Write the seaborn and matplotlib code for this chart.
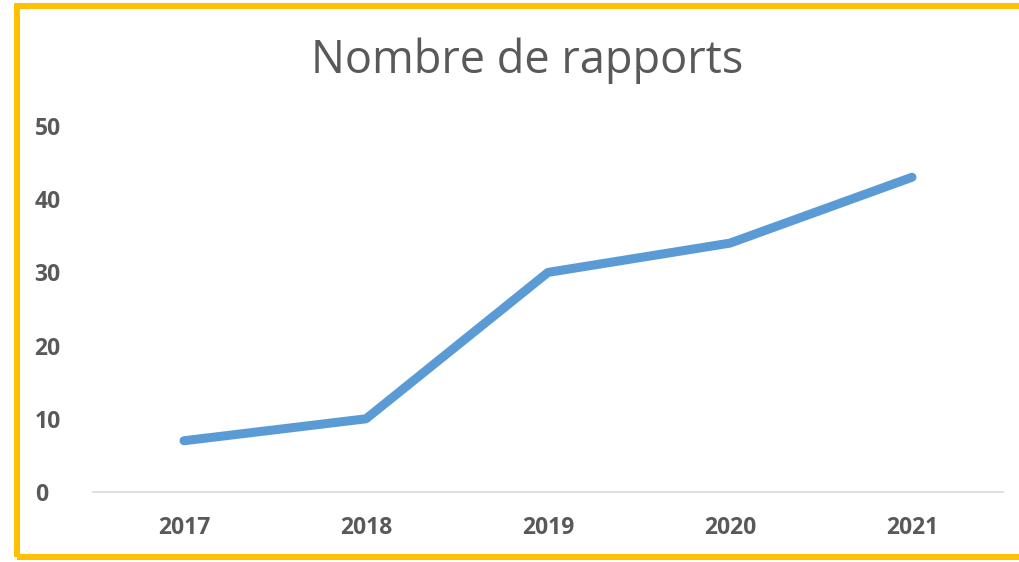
import pandas as pd
import seaborn as sns
import matplotlib.pyplot as plt
from matplotlib.patches import Rectangle
plt.switch_backend('agg')

years = ['2017', '2018', '2019', '2020', '2021']
rapports = [7, 10, 30, 34, 43]

sns.set_style('white')
plt.rcParams['font.family'] = ['Open Sans', 'DejaVu Sans']

df = pd.DataFrame({'annee': years, 'rapports': rapports})

fig = plt.figure(figsize=(10.2, 5.62), dpi=100)
ax = fig.add_axes([93 / 1020, 70 / 562, 910 / 1020, 366 / 562])

sns.lineplot(data=df, x='annee', y='rapports', ax=ax, color='#5B9BD5',
             linewidth=6.5, solid_capstyle='round', sort=False)

ax.set_xlim(-0.5, 4.5)
ax.set_ylim(0, 50)
ax.set_yticks([0, 10, 20, 30, 40, 50])
ax.set_xlabel('')
ax.set_ylabel('')
for s in ['top', 'right', 'left']:
    ax.spines[s].set_visible(False)
ax.spines['bottom'].set_color('#D9D9D9')
ax.spines['bottom'].set_linewidth(1.2)
ax.tick_params(axis='both', length=0, labelsize=16.5, labelcolor='#595959')
ax.tick_params(axis='y', pad=42)
ax.tick_params(axis='x', pad=17)
for lab in ax.get_xticklabels() + ax.get_yticklabels():
    lab.set_fontweight('bold')
for lab in ax.get_yticklabels():
    lab.set_horizontalalignment('left')

fig.text(527 / 1020, 1 - 61 / 562, 'Nombre de rapports', ha='center', va='center',
         fontsize=32.5, color='#595959')

# yellow frame
fig.patches.append(Rectangle((16.5 / 1020, 5.5 / 562), 1.1, 1 - 11.5 / 562,
                             transform=fig.transFigure, fill=False,
                             edgecolor='#FFC000', linewidth=4.3, zorder=10))

fig.savefig('out.png', dpi=100)
plt.close()
